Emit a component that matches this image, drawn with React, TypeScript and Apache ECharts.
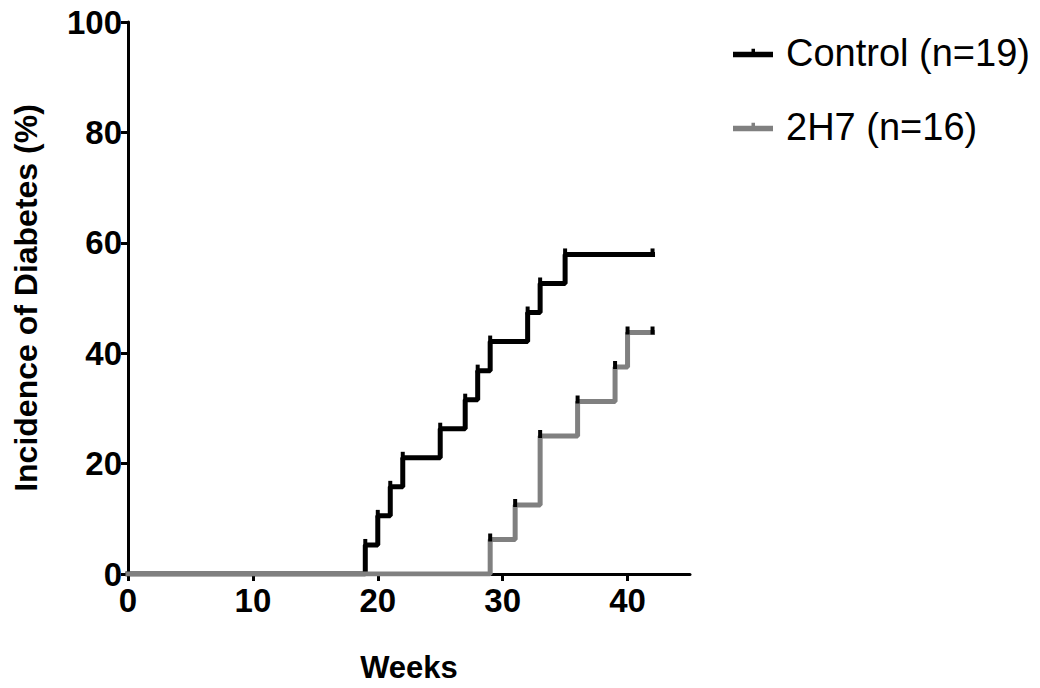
import React, { useEffect, useRef } from "react";
import * as echarts from "echarts";

const controlWeeks = [0, 19, 20, 21, 22, 25, 27, 28, 29, 32, 33, 35, 42];
const controlIncidence = [0, 5.26, 10.53, 15.79, 21.05, 26.32, 31.58, 36.84, 42.11, 47.37, 52.63, 57.89, 57.89];
const h7Weeks = [0, 29, 31, 33, 36, 39, 40, 42];
const h7Incidence = [0, 6.25, 12.5, 25, 31.25, 37.5, 43.75, 43.75];
const seriesNames = ["Control (n=19)", "2H7 (n=16)"];
const yTicks = [0, 20, 40, 60, 80, 100];
const xTicks = [0, 10, 20, 30, 40];

const FONT = "'Liberation Sans', Arial, sans-serif";

function toData(xs: number[], ys: number[]) {
  return xs.map((x, i) =>
    i === 0 ? { value: [x, ys[i]], symbol: "none" } : { value: [x, ys[i]] }
  );
}

export default function App() {
  const ref = useRef<HTMLDivElement>(null);
  useEffect(() => {
    if (!ref.current) return;
    const chart = echarts.init(ref.current, null, { renderer: "svg" });
    const legendIcon = "path://M0,3h40v5.5h-40z M18.5,0h3.5v5h-3.5z";
    chart.setOption({
      animation: false,
      backgroundColor: "#ffffff",
      grid: { left: 128, right: 350, top: 22, bottom: 112, containLabel: false },
      legend: {
        orient: "vertical",
        left: 728,
        top: 29,
        itemWidth: 40,
        itemHeight: 9,
        itemGap: 36,
        icon: legendIcon,
        textStyle: { fontFamily: FONT, fontSize: 38, color: "#000", padding: [0, 0, 0, 8] },
        data: [
          { name: seriesNames[0], itemStyle: { color: "#000000" } },
          { name: seriesNames[1], itemStyle: { color: "#808080" } },
        ],
      },
      xAxis: {
        type: "value",
        min: 0,
        max: 45,
        interval: 10,
        name: "Weeks",
        nameLocation: "middle",
        nameGap: 78,
        nameTextStyle: { fontFamily: FONT, fontSize: 31, fontWeight: "bold", color: "#000" },
        splitLine: { show: false },
        axisLine: { show: true, lineStyle: { color: "#000", width: 3 } },
        axisTick: { show: true, length: 7, lineStyle: { color: "#000", width: 3 } },
        axisLabel: {
          fontFamily: FONT,
          fontSize: 33,
          fontWeight: "bold",
          color: "#000",
          margin: 10,
          showMaxLabel: false,
          formatter: (v: number) => (xTicks.includes(v) ? String(v) : ""),
        },
      },
      yAxis: {
        type: "value",
        min: 0,
        max: 100,
        interval: 20,
        name: "Incidence of Diabetes (%)",
        nameLocation: "middle",
        nameRotate: 90,
        nameGap: 86,
        nameTextStyle: { fontFamily: FONT, fontSize: 32, fontWeight: "bold", color: "#000" },
        splitLine: { show: false },
        axisLine: { show: true, lineStyle: { color: "#000", width: 3 } },
        axisTick: { show: true, length: 7, lineStyle: { color: "#000", width: 3 } },
        axisLabel: {
          fontFamily: FONT,
          fontSize: 33,
          fontWeight: "bold",
          color: "#000",
          margin: 6,
          formatter: (v: number) => (yTicks.includes(v) ? String(v) : ""),
        },
      },
      series: [
        {
          name: seriesNames[0],
          type: "line",
          step: "end",
          data: toData(controlWeeks, controlIncidence),
          symbol: "rect",
          symbolSize: [4, 8],
          symbolOffset: [0, -2],
          showAllSymbol: true,
          itemStyle: { color: "#000000" },
          lineStyle: { color: "#000000", width: 5, cap: "square" },
          z: 2,
        },
        {
          name: seriesNames[1],
          type: "line",
          step: "end",
          data: toData(h7Weeks, h7Incidence),
          symbol: "rect",
          symbolSize: [4, 8],
          symbolOffset: [0, -2],
          showAllSymbol: true,
          itemStyle: { color: "#000000" },
          lineStyle: { color: "#808080", width: 5, cap: "square" },
          z: 3,
        },
      ],
    });
    return () => chart.dispose();
  }, []);
  return (
    <div
      ref={ref}
      style={{ position: "fixed", left: 0, top: 0, width: 1040, height: 688, background: "#fff" }}
    />
  );
}
